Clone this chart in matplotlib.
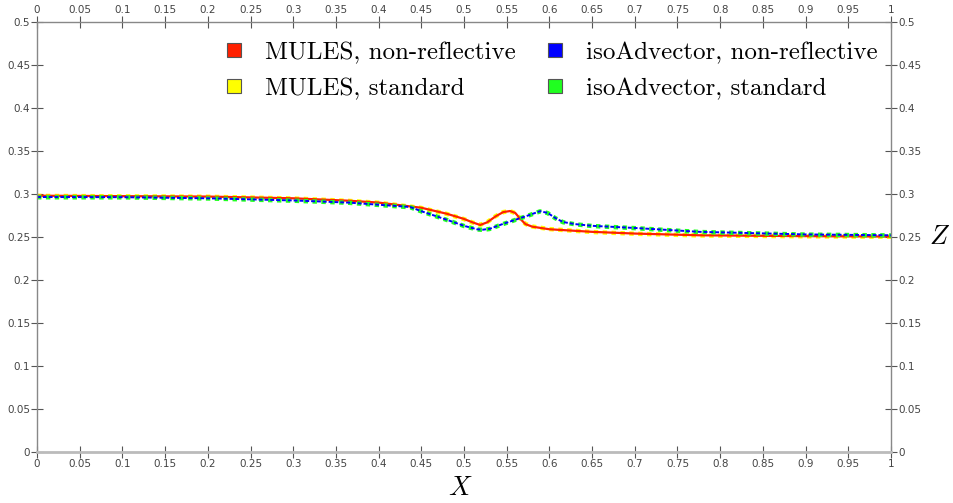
import numpy as np
import matplotlib
matplotlib.use('Agg')
import matplotlib.pyplot as plt
from matplotlib.ticker import MultipleLocator, FuncFormatter
from matplotlib.lines import Line2D

plt.rcParams['mathtext.fontset'] = 'cm'

# MULES (non-reflective and standard lie on top of each other)
x_mules = [0.0, 0.1, 0.2, 0.3, 0.365, 0.4, 0.45, 0.48, 0.5, 0.51, 0.519, 0.527,
           0.537, 0.546, 0.554, 0.56, 0.566, 0.572, 0.58, 0.6, 0.65, 0.7, 0.776, 0.9, 1.0]
z_mules_nr = [0.298, 0.2975, 0.297, 0.295, 0.2922, 0.290, 0.284, 0.277, 0.271, 0.267,
              0.264, 0.267, 0.274, 0.279, 0.2802, 0.278, 0.271, 0.265, 0.262, 0.259,
              0.256, 0.254, 0.252, 0.251, 0.2505]
z_mules_std = [0.2978, 0.2973, 0.2968, 0.2948, 0.292, 0.2898, 0.2838, 0.2768, 0.2708,
               0.2668, 0.2642, 0.2672, 0.2742, 0.2790, 0.2800, 0.2778, 0.2712, 0.2652,
               0.2622, 0.2592, 0.2558, 0.2538, 0.2518, 0.2508, 0.2503]

# isoAdvector
x_iso = [0.0, 0.1, 0.2, 0.3, 0.365, 0.437, 0.45, 0.48, 0.5, 0.515, 0.522, 0.53,
         0.545, 0.56, 0.575, 0.589, 0.598, 0.607, 0.616, 0.63, 0.65, 0.7, 0.776, 0.9, 1.0]
z_iso_nr = [0.2965, 0.2963, 0.295, 0.2925, 0.290, 0.2849, 0.280, 0.270, 0.263, 0.259,
            0.2585, 0.2595, 0.265, 0.270, 0.275, 0.280, 0.278, 0.272, 0.2674, 0.265,
            0.263, 0.2605, 0.256, 0.253, 0.252]
z_iso_std = [0.2962, 0.2961, 0.2948, 0.2922, 0.2898, 0.2846, 0.2798, 0.2698, 0.2628,
             0.2588, 0.2583, 0.2593, 0.2648, 0.2698, 0.2748, 0.2798, 0.2778, 0.2718,
             0.2672, 0.2648, 0.2628, 0.2603, 0.2558, 0.2528, 0.2518]

labels = ['MULES, non-reflective', 'MULES, standard',
          'isoAdvector, non-reflective', 'isoAdvector, standard']
colors = ['#ff2000', '#ffff00', '#0000ff', '#20ff20']

fig = plt.figure(figsize=(9.54, 5.03), dpi=100)
ax = fig.add_axes([37/954, 51/503, 854/954, 430/503])

ax.plot(x_mules, z_mules_std, color=colors[1], lw=3.2, ls=(0, (1, 1)))
ax.plot(x_mules, z_mules_nr, color=colors[0], lw=1.6)
ax.plot(x_iso, z_iso_std, color=colors[3], lw=3.2, ls=(0, (1, 1)))
ax.plot(x_iso, z_iso_nr, color=colors[2], lw=1.4, ls=(0, (2, 1)))

ax.set_xlim(0, 1)
ax.set_ylim(0, 0.5)
ax.xaxis.set_major_locator(MultipleLocator(0.05))
ax.yaxis.set_major_locator(MultipleLocator(0.05))
fmt = FuncFormatter(lambda v, p: '%g' % round(v, 2))
ax.xaxis.set_major_formatter(fmt)
ax.yaxis.set_major_formatter(fmt)
ax.tick_params(axis='both', which='major', direction='inout', length=8, width=0.8,
               color='#555555', labelcolor='#444444', labelsize=7.5, pad=1,
               top=True, right=True, labeltop=True, labelright=True)
for s in ax.spines.values():
    s.set_color('#888888')
    s.set_linewidth(1.0)
ax.spines['bottom'].set_color('#bbbbbb')
ax.spines['bottom'].set_linewidth(2.0)

handles = [Line2D([], [], ls='none', marker='s', markersize=10.5, markerfacecolor=c,
                  markeredgecolor='#555555', markeredgewidth=0.8) for c in colors]
leg = ax.legend(handles, labels, ncol=2, loc='upper left', frameon=False,
                bbox_to_anchor=(0.2, 0.99), prop={'family': 'serif', 'size': 18},
                handlelength=0.9, handletextpad=0.8, columnspacing=1.1, labelspacing=0.55,
                borderaxespad=0.2)
for t in leg.get_texts():
    t.set_fontfamily('cmr10')

fig.text(460/954, 1 - 488/503, '$X$', fontsize=19, ha='center', va='center')
fig.text(940/954, 1 - 237/503, '$Z$', fontsize=19, ha='center', va='center')

fig.savefig('out.png', dpi=100, facecolor='white')
